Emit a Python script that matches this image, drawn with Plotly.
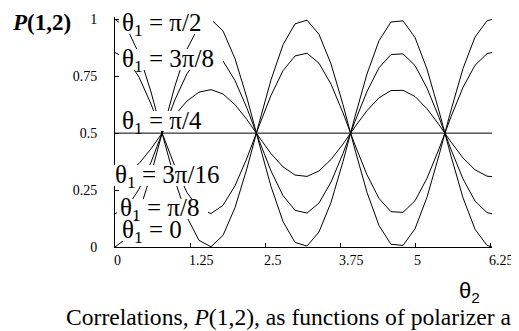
import plotly.graph_objects as go

# theta2 samples (radians) and P(1,2)
theta2 = [0, 0.2, 0.4, 0.6, 0.8, 1.0, 1.2, 1.4, 1.6, 1.8, 2.0, 2.2, 2.4, 2.6, 2.8, 3.0,
          3.2, 3.4, 3.6, 3.8, 4.0, 4.2, 4.4, 4.6, 4.8, 5.0, 5.2, 5.4, 5.6, 5.8, 6.0, 6.2, 6.283]

p_0 = [0.000, 0.040, 0.152, 0.319, 0.515, 0.708, 0.869, 0.971, 0.999, 0.949, 0.827, 0.654,
       0.457, 0.266, 0.112, 0.020, 0.004, 0.066, 0.196, 0.375, 0.573, 0.760, 0.906, 0.988,
       0.993, 0.920, 0.781, 0.597, 0.399, 0.216, 0.078, 0.007, 0.000]
p_pi_8 = [0.146, 0.174, 0.254, 0.372, 0.510, 0.647, 0.761, 0.833, 0.853, 0.817, 0.731, 0.609,
          0.469, 0.334, 0.226, 0.161, 0.149, 0.193, 0.285, 0.411, 0.552, 0.683, 0.787, 0.845,
          0.848, 0.797, 0.698, 0.569, 0.428, 0.299, 0.202, 0.151, 0.146]
p_3pi_16 = [0.309, 0.324, 0.367, 0.431, 0.506, 0.580, 0.641, 0.680, 0.691, 0.672, 0.625, 0.559,
            0.483, 0.410, 0.352, 0.316, 0.310, 0.334, 0.384, 0.452, 0.528, 0.599, 0.655, 0.687,
            0.688, 0.661, 0.607, 0.537, 0.461, 0.391, 0.339, 0.311, 0.309]
p_pi_4 = [0.5] * len(theta2)
p_3pi_8 = [0.854, 0.826, 0.746, 0.628, 0.490, 0.353, 0.239, 0.167, 0.147, 0.183, 0.269, 0.391,
           0.531, 0.666, 0.774, 0.839, 0.851, 0.807, 0.715, 0.589, 0.448, 0.317, 0.213, 0.155,
           0.152, 0.203, 0.302, 0.431, 0.572, 0.701, 0.798, 0.849, 0.854]
p_pi_2 = [1.000, 0.960, 0.848, 0.681, 0.485, 0.292, 0.131, 0.029, 0.001, 0.051, 0.173, 0.346,
          0.543, 0.734, 0.888, 0.980, 0.996, 0.934, 0.804, 0.625, 0.427, 0.240, 0.094, 0.012,
          0.007, 0.080, 0.219, 0.403, 0.601, 0.784, 0.922, 0.993, 1.000]

curves = [p_0, p_pi_8, p_3pi_16, p_pi_4, p_3pi_8, p_pi_2]
labels = ["0", "π/8", "3π/16", "π/4", "3π/8", "π/2"]

x_ticks = [0, 1.25, 2.5, 3.75, 5, 6.25]
x_ticktext = ["0", "1.25", "2.5", "3.75", "5", "6.25"]
y_ticks = [0, 0.25, 0.5, 0.75, 1]
y_ticktext = ["0", "0.25", "0.5", "0.75", "1"]

SERIF = "Liberation Serif"

# plot area in window pixels (page body adds 8px offset)
PX0, PX1, PY0, PY1 = 115, 492, 17, 247


def paper_x(px):
    return (px - PX0) / (PX1 - PX0)


def paper_y(py):
    return (PY1 - py) / (PY1 - PY0)


fig = go.Figure()
for ys in curves:
    fig.add_trace(go.Scatter(x=theta2, y=ys, mode="lines", line=dict(color="black", width=1),
                             showlegend=False, hoverinfo="skip"))

# curve labels: pixel offset from the y axis, y centre, and the white patch (px) hiding lines under the text
label_pos = [(5, 0.068), (3, 0.164), (-2, 0.309), (5, 0.546), (5, 0.819), (5, 0.975)]
label_box = [(119, 186, 221, 241), (117, 208, 199, 219), (112, 228, 165, 186),
             (119, 210, 111, 131), (119, 223, 49, 70), (119, 213, 13, 34)]
for lab, (dx, ly), (bx0, bx1, by0, by1) in zip(labels, label_pos, label_box):
    fig.add_shape(type="rect", xref="paper", yref="paper", layer="above",
                  x0=paper_x(bx0), x1=paper_x(bx1), y0=paper_y(by1), y1=paper_y(by0),
                  fillcolor="white", line=dict(width=0))
    fig.add_annotation(x=0, y=ly, xref="x", yref="y", xshift=dx, xanchor="left", yanchor="middle",
                       text=f"θ<sub>1</sub> = {lab}", showarrow=False,
                       font=dict(family=SERIF, size=25, color="black"))

fig.add_annotation(x=paper_x(10), y=paper_y(8), xref="paper", yref="paper", xanchor="left", yanchor="top",
                   text="<b><i>P</i>(1,2)</b>", showarrow=False,
                   font=dict(family=SERIF, size=23, color="black"))
fig.add_annotation(x=paper_x(469), y=paper_y(292), xref="paper", yref="paper", xanchor="center",
                   yanchor="middle", text="θ<sub>2</sub>", showarrow=False,
                   font=dict(family="Liberation Sans", size=22, color="black"))
fig.add_annotation(x=paper_x(64), y=paper_y(317), xref="paper", yref="paper", xanchor="left", yanchor="middle",
                   text="Correlations, <i>P</i>(1,2), as functions of polarizer a", showarrow=False,
                   font=dict(family=SERIF, size=23.6, color="black"))

fig.update_xaxes(range=[0, 6.283], tickvals=x_ticks, ticktext=x_ticktext, ticks="inside", ticklen=4,
                 tickcolor="black", showline=True, linecolor="black", linewidth=1, showgrid=False,
                 zeroline=False, automargin=False, ticklabelposition="outside right", ticklabelstandoff=0,
                 ticklabelshift=-2, tickfont=dict(family=SERIF, size=14, color="black"))
fig.update_yaxes(range=[0, 1.01], tickvals=y_ticks, ticktext=y_ticktext, ticks="inside", ticklen=4,
                 tickcolor="black", showline=True, linecolor="black", linewidth=1, showgrid=False,
                 zeroline=False, automargin=False, ticklabelstandoff=14,
                 tickfont=dict(family=SERIF, size=14, color="black"))
# the page body adds an 8px margin, so the figure is 8px smaller than the window
fig.update_layout(width=511, height=323, margin=dict(l=107, r=27, t=9, b=84),
                  paper_bgcolor="white", plot_bgcolor="white", showlegend=False)

fig.write_html("out.html")
